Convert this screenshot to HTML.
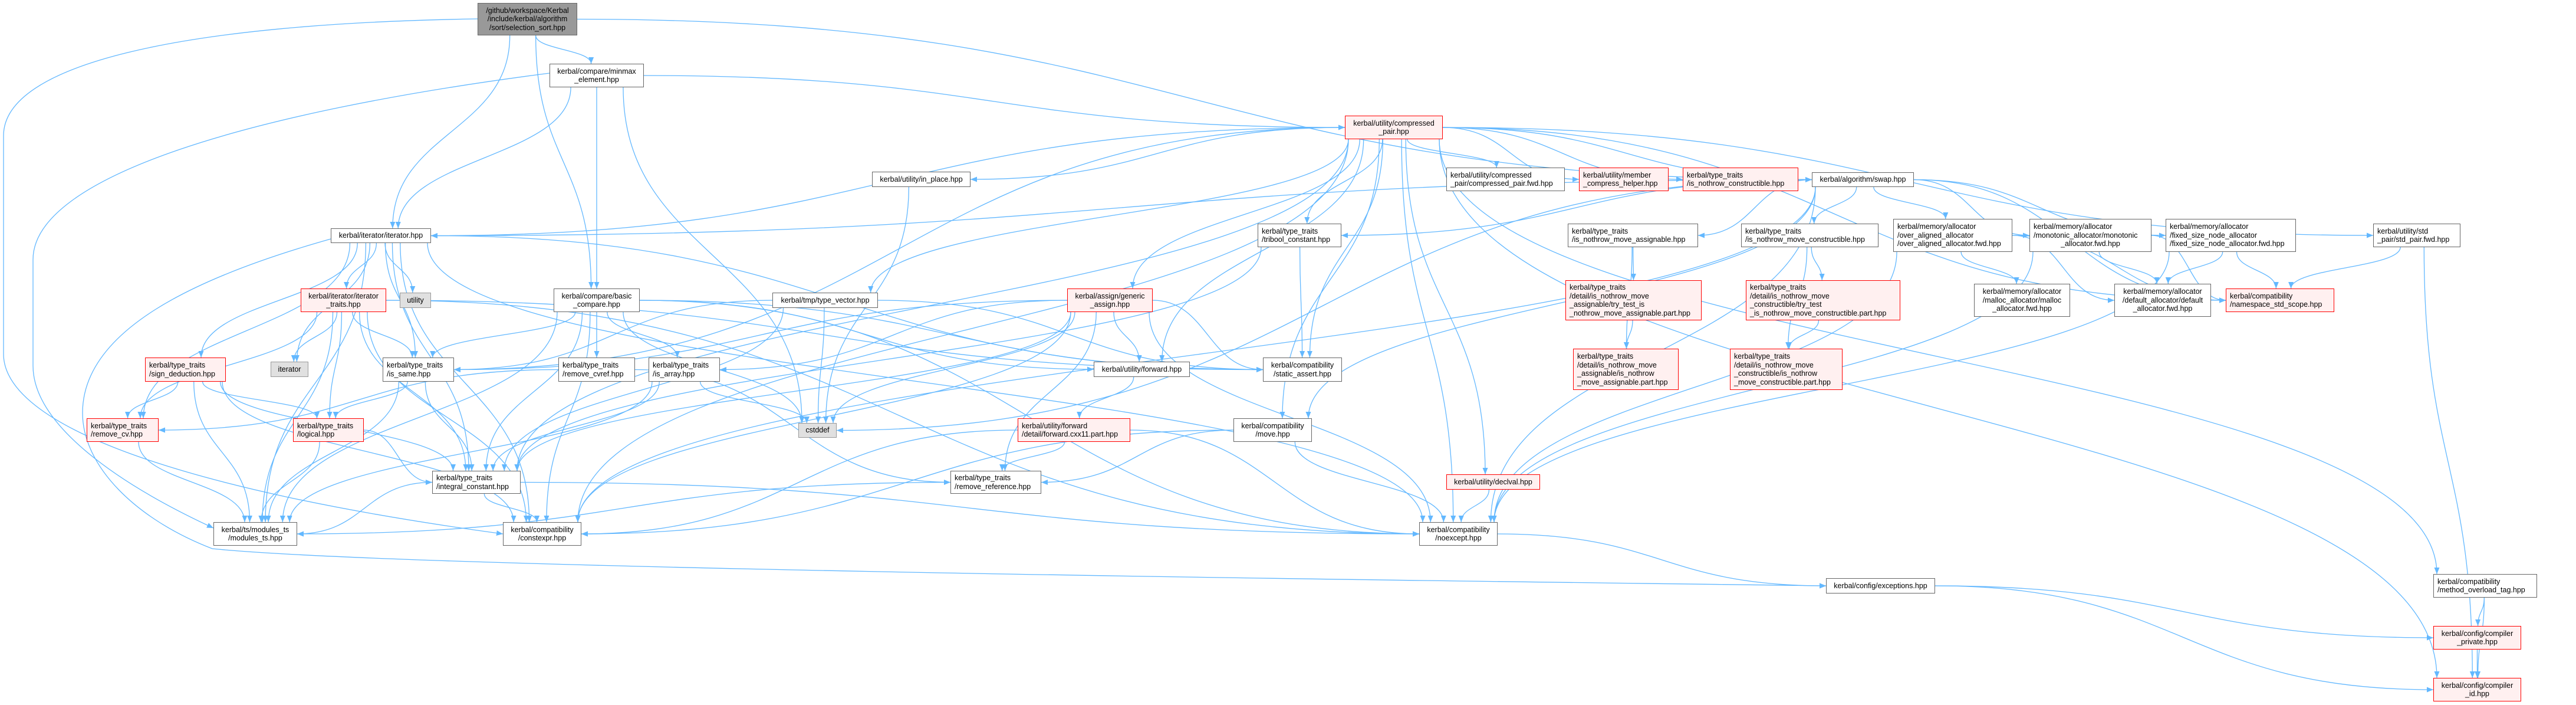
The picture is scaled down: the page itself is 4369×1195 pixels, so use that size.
<!DOCTYPE html>
<html><head><meta charset="utf-8">
<style>
html,body{margin:0;padding:0;background:#fff;}
body{width:4369px;height:1195px;position:relative;overflow:hidden;font-family:"Liberation Sans",Arial,sans-serif;}
svg{position:absolute;left:0;top:0;}
.n{position:absolute;box-sizing:border-box;border:1.5px solid #666;background:#fff;font-size:12.5px;line-height:14.5px;color:#000;display:flex;flex-direction:column;justify-content:center;text-align:center;white-space:nowrap;padding:0 6px;}
.l{text-align:left;}
.r{border-color:#f00;background:#fff0f0;}
.g{border-color:#999;background:#e0e0e0;}
.root{border-color:#666;background:#999;}
</style></head><body>
<svg id="s" width="4369" height="1195" xmlns="http://www.w3.org/2000/svg">
<defs><marker id="a" markerUnits="userSpaceOnUse" markerWidth="11" markerHeight="9" refX="11" refY="4.5" orient="auto"><path d="M0,0 L11,4.5 L0,9 z" fill="#63b8ff"/></marker></defs>
<g id="e" fill="none" stroke="#63b8ff" stroke-width="1.3">
<path d="M810,32 C300,40 6,110 6,230 L6,600 C6,720 300,830 853,905" marker-end="url(#a)"/>
<path d="M932,124 C420,190 56,300 56,440 L56,620 C56,720 200,820 362,895" marker-end="url(#a)"/>
<path d="M561,405 C330,470 140,560 140,700 C140,790 230,880 360,930 C700,965 2500,985 3097,993" marker-end="url(#a)"/>
</g>
</svg>
<div class="n root" id="ss" style="left:810px;top:5px;width:169px;height:55px">/github/workspace/Kerbal<br>/include/kerbal/algorithm<br>/sort/selection_sort.hpp</div>
<div class="n" id="mm" style="left:932px;top:108px;width:160px;height:40px">kerbal/compare/minmax<br>_element.hpp</div>
<div class="n" id="it" style="left:561px;top:387px;width:170px;height:25px">kerbal/iterator/iterator.hpp</div>
<div class="n r" id="itt" style="left:510px;top:489px;width:145px;height:40px">kerbal/iterator/iterator<br>_traits.hpp</div>
<div class="n g" id="util" style="left:678px;top:496px;width:53px;height:26px">utility</div>
<div class="n" id="bc" style="left:939px;top:489px;width:146px;height:40px">kerbal/compare/basic<br>_compare.hpp</div>
<div class="n r l" id="sd" style="left:246px;top:606px;width:137px;height:41px">kerbal/type_traits<br>/sign_deduction.hpp</div>
<div class="n g" id="iter" style="left:459px;top:613px;width:64px;height:26px">iterator</div>
<div class="n l" id="iss" style="left:649px;top:606px;width:121px;height:41px">kerbal/type_traits<br>/is_same.hpp</div>
<div class="n l" id="rcv" style="left:947px;top:606px;width:130px;height:41px">kerbal/type_traits<br>/remove_cvref.hpp</div>
<div class="n r l" id="rcvv" style="left:147px;top:709px;width:122px;height:40px">kerbal/type_traits<br>/remove_cv.hpp</div>
<div class="n r l" id="log" style="left:497px;top:709px;width:120px;height:40px">kerbal/type_traits<br>/logical.hpp</div>
<div class="n l" id="ic" style="left:733px;top:798px;width:150px;height:39px">kerbal/type_traits<br>/integral_constant.hpp</div>
<div class="n" id="mts" style="left:362px;top:885px;width:142px;height:40px">kerbal/ts/modules_ts<br>/modules_ts.hpp</div>
<div class="n" id="cx" style="left:853px;top:885px;width:133px;height:40px">kerbal/compatibility<br>/constexpr.hpp</div>
<div class="n" id="inp" style="left:1479px;top:291px;width:167px;height:26px">kerbal/utility/in_place.hpp</div>
<div class="n l" id="tri" style="left:2133px;top:379px;width:142px;height:40px">kerbal/type_traits<br>/tribool_constant.hpp</div>
<div class="n" id="tv" style="left:1310px;top:496px;width:179px;height:26px">kerbal/tmp/type_vector.hpp</div>
<div class="n r" id="ga" style="left:1810px;top:489px;width:145px;height:40px">kerbal/assign/generic<br>_assign.hpp</div>
<div class="n l" id="isa" style="left:1100px;top:606px;width:121px;height:41px">kerbal/type_traits<br>/is_array.hpp</div>
<div class="n g" id="csd" style="left:1354px;top:717px;width:65px;height:25px">cstddef</div>
<div class="n" id="fw" style="left:1855px;top:613px;width:163px;height:26px">kerbal/utility/forward.hpp</div>
<div class="n r l" id="fwc" style="left:1726px;top:709px;width:191px;height:40px">kerbal/utility/forward<br>/detail/forward.cxx11.part.hpp</div>
<div class="n l" id="rr" style="left:1612px;top:798px;width:154px;height:39px">kerbal/type_traits<br>/remove_reference.hpp</div>
<div class="n" id="sa" style="left:2142px;top:606px;width:134px;height:41px">kerbal/compatibility<br>/static_assert.hpp</div>
<div class="n" id="mv" style="left:2092px;top:709px;width:133px;height:40px">kerbal/compatibility<br>/move.hpp</div>
<div class="n r" id="cp" style="left:2281px;top:196px;width:166px;height:40px">kerbal/utility/compressed<br>_pair.hpp</div>
<div class="n l" id="cpf" style="left:2453px;top:284px;width:201px;height:40px">kerbal/utility/compressed<br>_pair/compressed_pair.fwd.hpp</div>
<div class="n r l" id="mch" style="left:2678px;top:284px;width:152px;height:40px">kerbal/utility/member<br>_compress_helper.hpp</div>
<div class="n r l" id="inc" style="left:2854px;top:284px;width:196px;height:40px">kerbal/type_traits<br>/is_nothrow_constructible.hpp</div>
<div class="n" id="sw" style="left:3073px;top:292px;width:173px;height:25px">kerbal/algorithm/swap.hpp</div>
<div class="n l" id="inma" style="left:2659px;top:379px;width:221px;height:40px">kerbal/type_traits<br>/is_nothrow_move_assignable.hpp</div>
<div class="n l" id="inmc" style="left:2953px;top:379px;width:233px;height:40px">kerbal/type_traits<br>/is_nothrow_move_constructible.hpp</div>
<div class="n l" id="oa" style="left:3211px;top:371px;width:202px;height:56px">kerbal/memory/allocator<br>/over_aligned_allocator<br>/over_aligned_allocator.fwd.hpp</div>
<div class="n r l" id="tta" style="left:2655px;top:475px;width:231px;height:68px">kerbal/type_traits<br>/detail/is_nothrow_move<br>_assignable/try_test_is<br>_nothrow_move_assignable.part.hpp</div>
<div class="n r l" id="ttc" style="left:2961px;top:475px;width:262px;height:68px">kerbal/type_traits<br>/detail/is_nothrow_move<br>_constructible/try_test<br>_is_nothrow_move_constructible.part.hpp</div>
<div class="n r l" id="dpa" style="left:2668px;top:591px;width:179px;height:70px">kerbal/type_traits<br>/detail/is_nothrow_move<br>_assignable/is_nothrow<br>_move_assignable.part.hpp</div>
<div class="n r l" id="dpc" style="left:2934px;top:591px;width:191px;height:70px">kerbal/type_traits<br>/detail/is_nothrow_move<br>_constructible/is_nothrow<br>_move_constructible.part.hpp</div>
<div class="n r" id="dv" style="left:2453px;top:804px;width:159px;height:26px">kerbal/utility/declval.hpp</div>
<div class="n" id="ne" style="left:2407px;top:885px;width:133px;height:40px">kerbal/compatibility<br>/noexcept.hpp</div>
<div class="n" id="ex" style="left:3097px;top:980px;width:185px;height:26px">kerbal/config/exceptions.hpp</div>
<div class="n l" id="mono" style="left:3442px;top:371px;width:207px;height:56px">kerbal/memory/allocator<br>/monotonic_allocator/monotonic<br><span style="text-align:center;display:block">_allocator.fwd.hpp</span></div>
<div class="n l" id="fsn" style="left:3673px;top:371px;width:221px;height:56px">kerbal/memory/allocator<br>/fixed_size_node_allocator<br>/fixed_size_node_allocator.fwd.hpp</div>
<div class="n l" id="sp" style="left:4025px;top:379px;width:148px;height:40px">kerbal/utility/std<br>_pair/std_pair.fwd.hpp</div>
<div class="n" id="mal" style="left:3348px;top:481px;width:163px;height:56px">kerbal/memory/allocator<br>/malloc_allocator/malloc<br>_allocator.fwd.hpp</div>
<div class="n" id="da" style="left:3586px;top:481px;width:164px;height:56px">kerbal/memory/allocator<br>/default_allocator/default<br>_allocator.fwd.hpp</div>
<div class="n r l" id="nss" style="left:3775px;top:489px;width:184px;height:40px">kerbal/compatibility<br>/namespace_std_scope.hpp</div>
<div class="n l" id="mot" style="left:4127px;top:973px;width:176px;height:40px">kerbal/compatibility<br>/method_overload_tag.hpp</div>
<div class="n r" id="cpr" style="left:4127px;top:1061px;width:149px;height:40px">kerbal/config/compiler<br>_private.hpp</div>
<div class="n r" id="cid" style="left:4127px;top:1149px;width:149px;height:40px">kerbal/config/compiler<br>_id.hpp</div>
<script>
var E={
ss:"it mm bc sw",
mm:"it bc cp csd",
it:"itt util iter sd iss ic cx mts sa ne rcvv",
itt:"iter mts ic iss log cx rcvv ne sa",
bc:"iss rcv isa ic csd cx fw sa ne mts",
sd:"rcvv log ic mts cx",
iss:"ic log mts",
rcv:"rcvv rr",
rcvv:"mts",
log:"mts ic",
ic:"mts cx ne",
isa:"csd ic mts",
tv:"csd iss sa ic",
inp:"csd",
ga:"csd fw sa isa rr ne cx ic iss",
fw:"fwc",
fwc:"rr ne cx",
rr:"mts",
mv:"rr ne cx",
cp:"inp tv ga cpf mch inc sw it tri sa fw mv ne dv nss sp mot cid iss cx ic",
tri:"ic sa",
sw:"it tri inma inmc oa mono fsn mv ne cx csd nss",
inma:"tta dpa",
tta:"dpa",
inmc:"ttc dpc",
ttc:"dpc",
oa:"mal da nss ne",
mono:"da nss ne",
fsn:"da nss ne",
sp:"nss cid",
dv:"ne",
ne:"ex",
ex:"cpr cid",
mot:"cpr cid",
cpr:"cid"
};
function B(id){var d=document.getElementById(id);var x=d.offsetLeft,y=d.offsetTop,w=d.offsetWidth,h=d.offsetHeight;return{x1:x,y1:y,x2:x+w,y2:y+h,w:w,h:h,cx:x+w/2,cy:y+h/2};}
function cl(v,a){return Math.max(-a,Math.min(a,v));}
var g=document.getElementById('e'),out='';
for(var s in E){E[s].split(' ').forEach(function(t){
 var S=B(s),T=B(t),dx=T.cx-S.cx,p;
 var gap=T.y1-S.y2;
 if(gap>=5 && Math.abs(dx)<4*gap){
  var sx=S.cx+cl(dx*0.12,S.w/2-6),sy=S.y2,ex=T.cx+cl(-dx*0.08,T.w/2-6),ey=T.y1,m=(ey-sy)*0.5;
  p='M'+sx+','+sy+' C'+sx+','+(sy+m)+' '+ex+','+(ey-m)+' '+ex+','+ey;
 } else {
  var sx,ex,sy=S.cy,ey=T.cy;
  if(dx>0){sx=S.x2;ex=T.x1;}else{sx=S.x1;ex=T.x2;}
  var mx=(sx+ex)/2;
  p='M'+sx+','+sy+' C'+mx+','+sy+' '+mx+','+ey+' '+ex+','+ey;
 }
 out+='<path d="'+p+'" marker-end="url(#a)"/>';
});}
g.insertAdjacentHTML('beforeend',out);
</script>
</body></html>
